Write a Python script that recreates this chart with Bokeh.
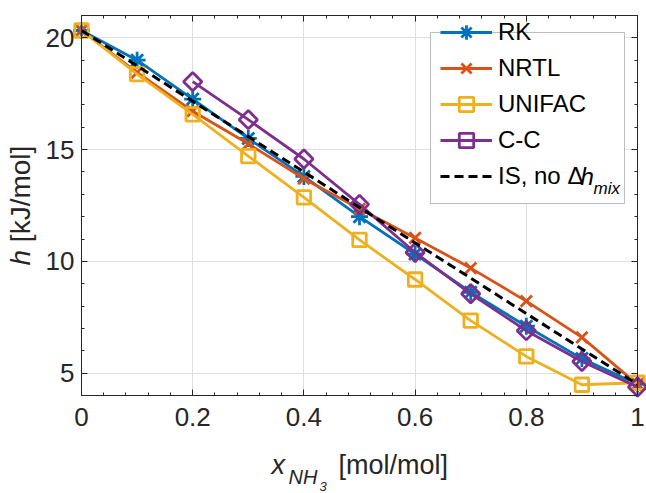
import numpy as np
from bokeh.plotting import figure
from bokeh.models import (LinearAxis, FixedTicker, Range1d, Legend, LegendItem, Label,
                          BoxAnnotation)
from bokeh.embed import file_html
from bokeh.resources import INLINE

# ---------------- data ----------------
x_mole = [0.0, 0.1, 0.2, 0.3, 0.4, 0.5, 0.6, 0.7, 0.8, 0.9, 1.0]
h_rk = [20.33, 19.0, 17.26, 15.5, 13.8, 12.0, 10.33, 8.62, 7.1, 5.65, 4.5]
h_nrtl = [20.33, 18.45, 16.72, 15.26, 13.7, 12.35, 11.05, 9.7, 8.22, 6.6, 4.5]
h_unifac = [20.33, 18.38, 16.58, 14.71, 12.86, 10.96, 9.19, 7.35, 5.75, 4.48, 4.57]
x_cc = [0.2, 0.3, 0.4, 0.5, 0.6, 0.7, 0.8, 0.9, 1.0]
h_cc = [18.04, 16.34, 14.58, 12.55, 10.4, 8.55, 6.9, 5.52, 4.38]
x_is = [0.0, 1.0]
h_is = [20.33, 4.5]

series_names = ["RK", "NRTL", "UNIFAC", "C-C", "IS, no \u0394"]

x_ticks = [0.0, 0.2, 0.4, 0.6, 0.8, 1.0]
x_tick_labels = ["0", "0.2", "0.4", "0.6", "0.8", "1"]
y_ticks = [5, 10, 15, 20]
y_tick_labels = ["5", "10", "15", "20"]
x_minor = [round(v, 2) for v in np.arange(0.0, 1.0001, 0.04)]
y_minor = list(range(4, 22))
x_lim = (0.0, 1.0)
y_lim = (4.0, 21.0)

# ---------------- style / layout ----------------
W, H = 646, 493
AX_L, AX_R, AX_T, AX_B = 81, 637, 15, 395      # pixel box of the axes
FONT = "Liberation Sans"
TXT = "#262626"
GRID = "#dfdfdf"
C_RK = "#0072BD"
C_NRTL = "#D95319"
C_UNI = "#EDB120"
C_CC = "#7E2F8E"
LW = 2.8
TICK_FS = "26px"
LAB_FS = 27
LEG_FS = 24

# the frame covers the whole canvas; ranges are extended so that the data box
# lands on the pixel box AX_*
sx = (AX_R - AX_L) / (x_lim[1] - x_lim[0])
sy = (AX_B - AX_T) / (y_lim[1] - y_lim[0])
xr = Range1d(x_lim[0] - AX_L / sx, x_lim[1] + (W - AX_R) / sx)
yr = Range1d(y_lim[0] - (H - AX_B) / sy, y_lim[1] + AX_T / sy)

p = figure(width=W, height=H, output_backend="svg", toolbar_location=None,
           x_range=xr, y_range=yr, min_border=0,
           x_axis_location=None, y_axis_location=None)
p.background_fill_color = "white"
p.border_fill_color = "white"
p.outline_line_color = None
p.xgrid.visible = False
p.ygrid.visible = False

xt = FixedTicker(ticks=x_ticks, minor_ticks=x_minor)
yt = FixedTicker(ticks=y_ticks, minor_ticks=y_minor)
xo = {v: s for v, s in zip(x_ticks, x_tick_labels)}
yo = {v: s for v, s in zip(y_ticks, y_tick_labels)}


def make_axis(ticker, overrides, show_labels, loc, bounds):
    ax = LinearAxis(ticker=ticker, fixed_location=loc, bounds=bounds)
    ax.major_label_overrides = overrides
    ax.axis_line_color = TXT
    ax.axis_line_width = 1
    ax.major_tick_line_color = TXT
    ax.minor_tick_line_color = TXT
    ax.major_tick_in = 6
    ax.major_tick_out = 0
    ax.minor_tick_in = 3
    ax.minor_tick_out = 0
    ax.major_label_text_font = FONT
    ax.major_label_text_font_size = TICK_FS
    if show_labels:
        ax.major_label_text_color = TXT
    else:
        ax.major_label_text_color = None
        ax.major_label_text_alpha = 0
    return ax


def make_grid_axis(ticks, loc, bounds, length):
    # an axis whose long inward major ticks act as grid lines inside the box only
    ax = LinearAxis(ticker=FixedTicker(ticks=ticks, minor_ticks=[]), fixed_location=loc,
                    bounds=bounds, level="underlay")
    ax.axis_line_color = None
    ax.major_tick_line_color = GRID
    ax.major_tick_line_width = 1
    ax.major_tick_in = length
    ax.major_tick_out = 0
    ax.minor_tick_line_color = None
    ax.major_label_text_color = None
    ax.major_label_text_alpha = 0
    ax.major_label_text_font_size = TICK_FS
    return ax


p.add_layout(make_grid_axis(x_ticks, y_lim[1], x_lim, AX_B - AX_T), "above")
p.add_layout(make_grid_axis(y_ticks, x_lim[1], y_lim, AX_R - AX_L), "right")

ax_b = make_axis(xt, xo, True, y_lim[0], x_lim)
ax_b.major_label_standoff = 12
ax_l = make_axis(yt, yo, True, x_lim[0], y_lim)
ax_l.major_label_standoff = 7
ax_t = make_axis(xt, xo, False, y_lim[1], x_lim)
ax_r = make_axis(yt, yo, False, x_lim[1], y_lim)
p.add_layout(ax_b, "below")
p.add_layout(ax_l, "left")
p.add_layout(ax_t, "above")
p.add_layout(ax_r, "right")

# ---------------- series ----------------
l_rk = p.line(x_mole, h_rk, line_color=C_RK, line_width=LW)
m_rk = p.scatter(x_mole, h_rk, marker="asterisk", size=17, line_color=C_RK, line_width=LW)
l_nr = p.line(x_mole, h_nrtl, line_color=C_NRTL, line_width=LW)
m_nr = p.scatter(x_mole, h_nrtl, marker="x", size=16, line_color=C_NRTL, line_width=LW)
l_un = p.line(x_mole, h_unifac, line_color=C_UNI, line_width=LW)
m_un = p.scatter(x_mole, h_unifac, marker="square", size=13.5, line_color=C_UNI,
                 fill_color=None, line_width=LW)
l_cc = p.line(x_cc, h_cc, line_color=C_CC, line_width=LW)
m_cc = p.scatter(x_cc, h_cc, marker="square", angle=np.pi / 4, size=13, line_color=C_CC,
                 fill_color=None, line_width=LW)
l_is = p.line(x_is, h_is, line_color="black", line_width=3, line_dash="9 5")

# ---------------- legend ----------------
BOX = (430, 624, 32, 203)        # left, right, top, bottom (pixels from top-left)
p.add_layout(BoxAnnotation(left=BOX[0], right=BOX[1], top=H - BOX[2], bottom=H - BOX[3],
                           left_units="screen", right_units="screen",
                           top_units="screen", bottom_units="screen",
                           fill_color="white", fill_alpha=1,
                           line_color=TXT, line_width=1, level="annotation"))

GH = 36
SP = -5
NIT = 5
GW = 52
STAND = 6
ROW0 = 51.7                       # centre of first row (pixels from top)
leg_h = NIT * GH + (NIT - 1) * SP
leg_top = ROW0 - GH / 2
leg_x = 440
legend = Legend(items=[
    LegendItem(label=series_names[0], renderers=[l_rk, m_rk]),
    LegendItem(label=series_names[1], renderers=[l_nr, m_nr]),
    LegendItem(label=series_names[2], renderers=[l_un, m_un]),
    LegendItem(label=series_names[3], renderers=[l_cc, m_cc]),
    LegendItem(label=series_names[4], renderers=[l_is]),
], location=(leg_x, H - leg_top - leg_h))
legend.margin = 0
legend.padding = 0
legend.spacing = SP
legend.glyph_height = GH
legend.glyph_width = GW
legend.label_standoff = STAND
legend.label_height = 20
legend.label_text_font = FONT
legend.label_text_font_size = f"{LEG_FS}px"
legend.label_text_color = "black"
legend.border_line_color = None
legend.background_fill_color = None
legend.background_fill_alpha = 0
p.add_layout(legend, "center")

# "h" and subscript "mix" of the last legend entry
row_last = H - (ROW0 + 4 * (GH + SP))
lab_x0 = leg_x + GW + STAND
p.add_layout(Label(x=lab_x0 + 82, y=row_last, x_units="screen", y_units="screen", text="h",
                   text_font=FONT, text_font_style="italic", text_font_size=f"{LEG_FS}px",
                   text_baseline="middle", text_color="black"))
p.add_layout(Label(x=lab_x0 + 95, y=row_last - 12, x_units="screen", y_units="screen",
                   text="mix", text_font=FONT, text_font_style="italic",
                   text_font_size="17px", text_baseline="middle", text_color="black"))

# ---------------- axis labels ----------------
# x label: x_{NH_3} [mol/mol]
XL_BASE = 479
p.add_layout(Label(x=271, y=H - XL_BASE, x_units="screen", y_units="screen", text="x",
                   text_font=FONT, text_font_style="italic", text_font_size=f"{LAB_FS}px",
                   text_color=TXT))
p.add_layout(Label(x=288, y=H - (XL_BASE + 8), x_units="screen", y_units="screen", text="NH",
                   text_font=FONT, text_font_style="italic", text_font_size="20px",
                   text_color=TXT))
p.add_layout(Label(x=319, y=H - (XL_BASE + 11), x_units="screen", y_units="screen", text="3",
                   text_font=FONT, text_font_style="italic", text_font_size="13px",
                   text_color=TXT))
p.add_layout(Label(x=338, y=H - XL_BASE, x_units="screen", y_units="screen", text="[mol/mol]",
                   text_font=FONT, text_font_size=f"{LAB_FS}px", text_color=TXT))
# y label: h [kJ/mol]
YL_X = 35
YL_Y = H - 265
YL_FS = 28
p.add_layout(Label(x=YL_X, y=YL_Y, x_units="screen", y_units="screen", text="h",
                   angle=np.pi / 2, text_font=FONT, text_font_style="italic",
                   text_font_size=f"{YL_FS}px", text_color=TXT))
p.add_layout(Label(x=YL_X, y=YL_Y + (0.556 + 0.278) * YL_FS, x_units="screen",
                   y_units="screen", text="[kJ/mol]", angle=np.pi / 2, text_font=FONT,
                   text_font_size=f"{YL_FS}px", text_color=TXT))

open("out.html", "w").write(file_html(p, INLINE))
